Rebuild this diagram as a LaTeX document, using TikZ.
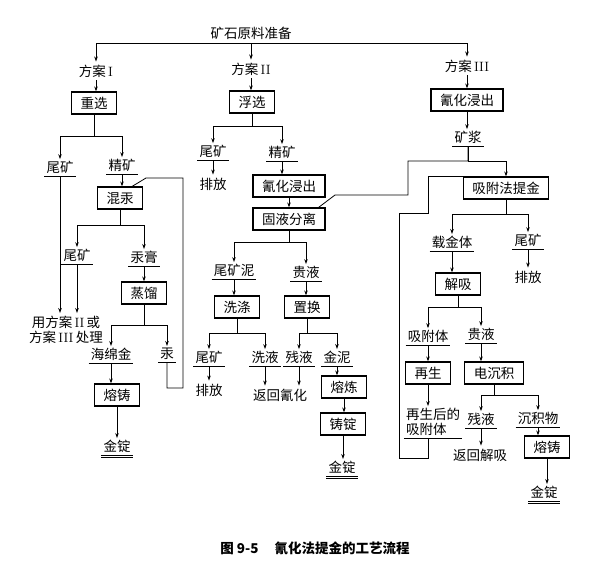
\documentclass[tikz,border=0pt]{standalone}
\usepackage{fontspec}
\setmainfont{Noto Sans CJK SC}
\newfontfamily\romfont{Latin Modern Roman}
\newcommand{\rmn}[1]{\,{\romfont #1}}
\usetikzlibrary{positioning,arrows.meta,calc}
\tikzset{
  flow/.style={-{Stealth[length=5pt,width=3.5pt]},line width=0.8pt},
  wire/.style={line width=0.8pt},
  unit/.style={draw,line width=1.2pt,minimum height=22pt,inner xsep=9pt,inner ysep=0pt}, % process box
  prod/.style={anchor=south,inner xsep=2pt,inner ysep=2pt},  % underlined product
  txt/.style={inner sep=3pt},
}

\begin{document}
\begin{tikzpicture}[x=1pt,y=-1pt,font=\fontsize{13.5}{15}\selectfont]
  \useasboundingbox (0,0) rectangle (600,563);
  % ore and the three schemes
  \node[anchor=south,inner sep=3pt] (ore) at (251,43) {矿石原料准备};
  \node[txt] (fa1) at (96,71) {方案\rmn{I}};
  \node[txt] (fa2) at (251,69) {方案\rmn{II}};
  \node[txt] (fa3) at (467,66) {方案\rmn{III}};
  % scheme I
  \node[unit] (zx) at (94,103) {重选};
  \node[prod] (wk1) at (60,176) {尾矿};
  \node[prod] (jk1) at (122,174) {精矿};
  \node[unit] (hg) at (120,198) {混汞};
  \node[prod] (wk2) at (77,264) {尾矿};
  \node[prod] (gg) at (144,266) {汞膏};
  \node[unit] (zl) at (144,293) {蒸馏};
  \node[txt,align=center] (yf) at (66,330) {用方案\rmn{II}\,或\\方案\rmn{III}\,处理};
  \node[prod] (hmj) at (111,363) {海绵金};
  \node[prod] (gong) at (167,362) {汞};
  \node[unit] (rz1) at (117,395) {熔铸};
  \node[prod] (jd1) at (117,455) {金锭};
  % scheme II
  \node[unit] (fx) at (252,102) {浮选};
  \node[prod] (wk3) at (213,160) {尾矿};
  \node[prod] (jk2) at (282,161) {精矿};
  \node[txt] (pf1) at (213,184) {排放};
  \node[unit] (qh2) at (289,186) {氰化浸出};
  \node[unit] (gy) at (289,219) {固液分离};
  \node[prod] (wkn) at (234,279) {尾矿泥};
  \node[prod] (gy1) at (306,281) {贵液};
  \node[unit] (xd) at (237,307) {洗涤};
  \node[unit] (zh) at (307,307) {置换};
  \node[prod] (wk4) at (209,366) {尾矿};
  \node[prod] (xy) at (265,366) {洗液};
  \node[prod] (cy1) at (299,366) {残液};
  \node[prod] (jn) at (337,366) {金泥};
  \node[txt] (pf2) at (209,390) {排放};
  \node[txt] (fhqh) at (280,395) {返回氰化};
  \node[unit] (rl) at (344,387) {熔炼};
  \node[unit] (zd) at (343,424) {铸锭};
  \node[prod] (jd2) at (342,476) {金锭};
  % scheme III
  \node[unit] (qh3) at (467,100) {氰化浸出};
  \node[prod] (kj) at (468,146) {矿浆};
  \node[unit] (xf) at (506,188) {吸附法提金};
  \node[prod] (zjt) at (452,251) {载金体};
  \node[prod] (wk5) at (528,249) {尾矿};
  \node[txt] (pf3) at (528,277) {排放};
  \node[unit] (jx) at (458,284) {解吸};
  \node[prod] (xft) at (428,345) {吸附体};
  \node[prod] (gy2) at (481,343) {贵液};
  \node[unit] (zs) at (428,373) {再生};
  \node[unit] (dcj) at (494,373) {电沉积};
  \node[prod,align=left] (zsh) at (433,438) {再生后的\\吸附体};
  \node[prod] (cy2) at (481,428) {残液};
  \node[prod] (cjw) at (538,427) {沉积物};
  \node[txt] (fhjx) at (480,455) {返回解吸};
  \node[unit] (rz2) at (547,447) {熔铸};
  \node[prod] (jd3) at (544,501) {金锭};
  \node[font=\fontsize{13.5}{15}\selectfont\bfseries] (cap) at (315,548) {图 9-5\hspace{1.2em}氰化法提金的工艺流程};

  % underlines
  \foreach \n in {wk1,jk1,wk2,gg,hmj,gong,wk3,jk2,wkn,gy1,wk4,xy,cy1,jn,kj,zjt,wk5,xft,gy2,zsh,cy2,cjw}
    \draw[wire] (\n.south west) -- (\n.south east);
  \foreach \n in {jd1,jd2,jd3}{
    \draw[wire] (\n.south west) -- (\n.south east);
    \draw[wire] ([yshift=-2.5pt]\n.south west) -- ([yshift=-2.5pt]\n.south east);
  }

  % top split
  \draw[flow] (ore.south) -| (fa1.north);
  \draw[flow] (ore.south) -- (fa2.north);
  \draw[flow] (ore.south) -| (fa3.north);
  \draw[flow] (fa1.south) -- (fa1.south |- zx.north);
  \draw[flow] (fa2.south) -- (fa2.south |- fx.north);
  \draw[flow] (fa3.south) -- (fa3.south |- qh3.north);

  % scheme I flows
  \draw[flow] (zx.south) -- ++(0,22) -| (wk1.north);
  \draw[flow] (zx.south) -- ++(0,22) -| (jk1.north);
  \draw[flow] (jk1.south) -- (jk1.south |- hg.north);
  \draw[flow] (hg.south) -- ++(0,16) -| (wk2.north);
  \draw[flow] (hg.south) -- ++(0,16) -| (gg.north);
  \draw[flow] (gg.south) -- (gg.south |- zl.north);
  \draw[flow] (wk1.south) -- (wk1.south |- yf.north);
  \draw[flow] (wk2.south) -- (wk2.south |- yf.north);
  \draw[flow] (zl.south) -- ++(0,21) -| (hmj.north);
  \draw[flow] (zl.south) -- ++(0,21) -| (gong.north);
  \draw[flow] (hmj.south) -- (hmj.south |- rz1.north);
  \draw[flow] (rz1.south) -- (rz1.south |- jd1.north);
  \coordinate (hgret) at (183,178);
  \draw[wire] (gong.south) -- ++(0,26) -| (hgret) -- ++(-37,0) -- ([xshift=-11pt]hg.north east);

  % scheme II flows
  \draw[flow] (fx.south) -- ++(0,13) -| (wk3.north);
  \draw[flow] (fx.south) -- ++(0,13) -| (jk2.north);
  \draw[flow] (wk3.south) -- (wk3.south |- pf1.north);
  \draw[flow] (jk2.south) -- (jk2.south |- qh2.north);
  \draw[flow] (qh2.south) -- (qh2.south |- gy.north);
  \draw[flow] (gy.south) -- ++(0,12) -| (wkn.north);
  \draw[flow] (gy.south) -- ++(0,12) -| (gy1.north);
  \draw[flow] (wkn.south) -- (wkn.south |- xd.north);
  \draw[flow] (gy1.south) -- (gy1.south |- zh.north);
  \draw[flow] (xd.south) -- ++(0,15) -| (wk4.north);
  \draw[flow] (xd.south) -- ++(0,15) -| (xy.north);
  \draw[flow] (zh.south) -- ++(0,15) -| (cy1.north);
  \draw[flow] (zh.south) -- ++(0,15) -| (jn.north);
  \draw[flow] (wk4.south) -- (wk4.south |- pf2.north);
  \draw[flow] (xy.south) -- (xy.south |- fhqh.north);
  \draw[flow] (cy1.south) -- (cy1.south |- fhqh.north);
  \draw[flow] (jn.south) -- (jn.south |- rl.north);
  \draw[flow] (rl.south) -- (rl.south |- zd.north);
  \draw[flow] (zd.south) -- (zd.south |- jd2.north);

  % scheme III flows
  \draw[flow] (qh3.south) -- (qh3.south |- kj.north);
  \draw[flow] (kj.south) -- ++(0,15) -| (xf.north);
  \coordinate (pulp) at (408,195);
  \draw[wire] (kj.south) -- ++(0,15) -| (pulp) -- ++(-73,0) -- ([xshift=-7pt]gy.north east);
  \draw[flow] (xf.south) -- ++(0,15) -| (zjt.north);
  \draw[flow] (xf.south) -- ++(0,15) -| (wk5.north);
  \draw[flow] (wk5.south) -- (wk5.south |- pf3.north);
  \draw[flow] (zjt.south) -- (zjt.south |- jx.north);
  \draw[flow] (jx.south) -- ++(0,12) -| (xft.north);
  \draw[flow] (jx.south) -- ++(0,12) -| (gy2.north);
  \draw[flow] (xft.south) -- (xft.south |- zs.north);
  \draw[flow] (gy2.south) -- (gy2.south |- dcj.north);
  \draw[flow] (zs.south) -- (zs.south |- zsh.north);
  \draw[flow] (dcj.south) -- ++(0,11) -| (cy2.north);
  \draw[flow] (dcj.south) -- ++(0,11) -| (cjw.north);
  \draw[flow] (cy2.south) -- (cy2.south |- fhjx.north);
  \draw[flow] (cjw.south) -- (cjw.south |- rz2.north);
  \draw[flow] (rz2.south) -- (rz2.south |- jd3.north);
  \coordinate (back1) at (399,458);
  \coordinate (back2) at (428,213);
  \draw[wire] ([xshift=-5pt]zsh.south) |- (back1) |- (back2) |- (xf.north west);
\end{tikzpicture}
\end{document}
